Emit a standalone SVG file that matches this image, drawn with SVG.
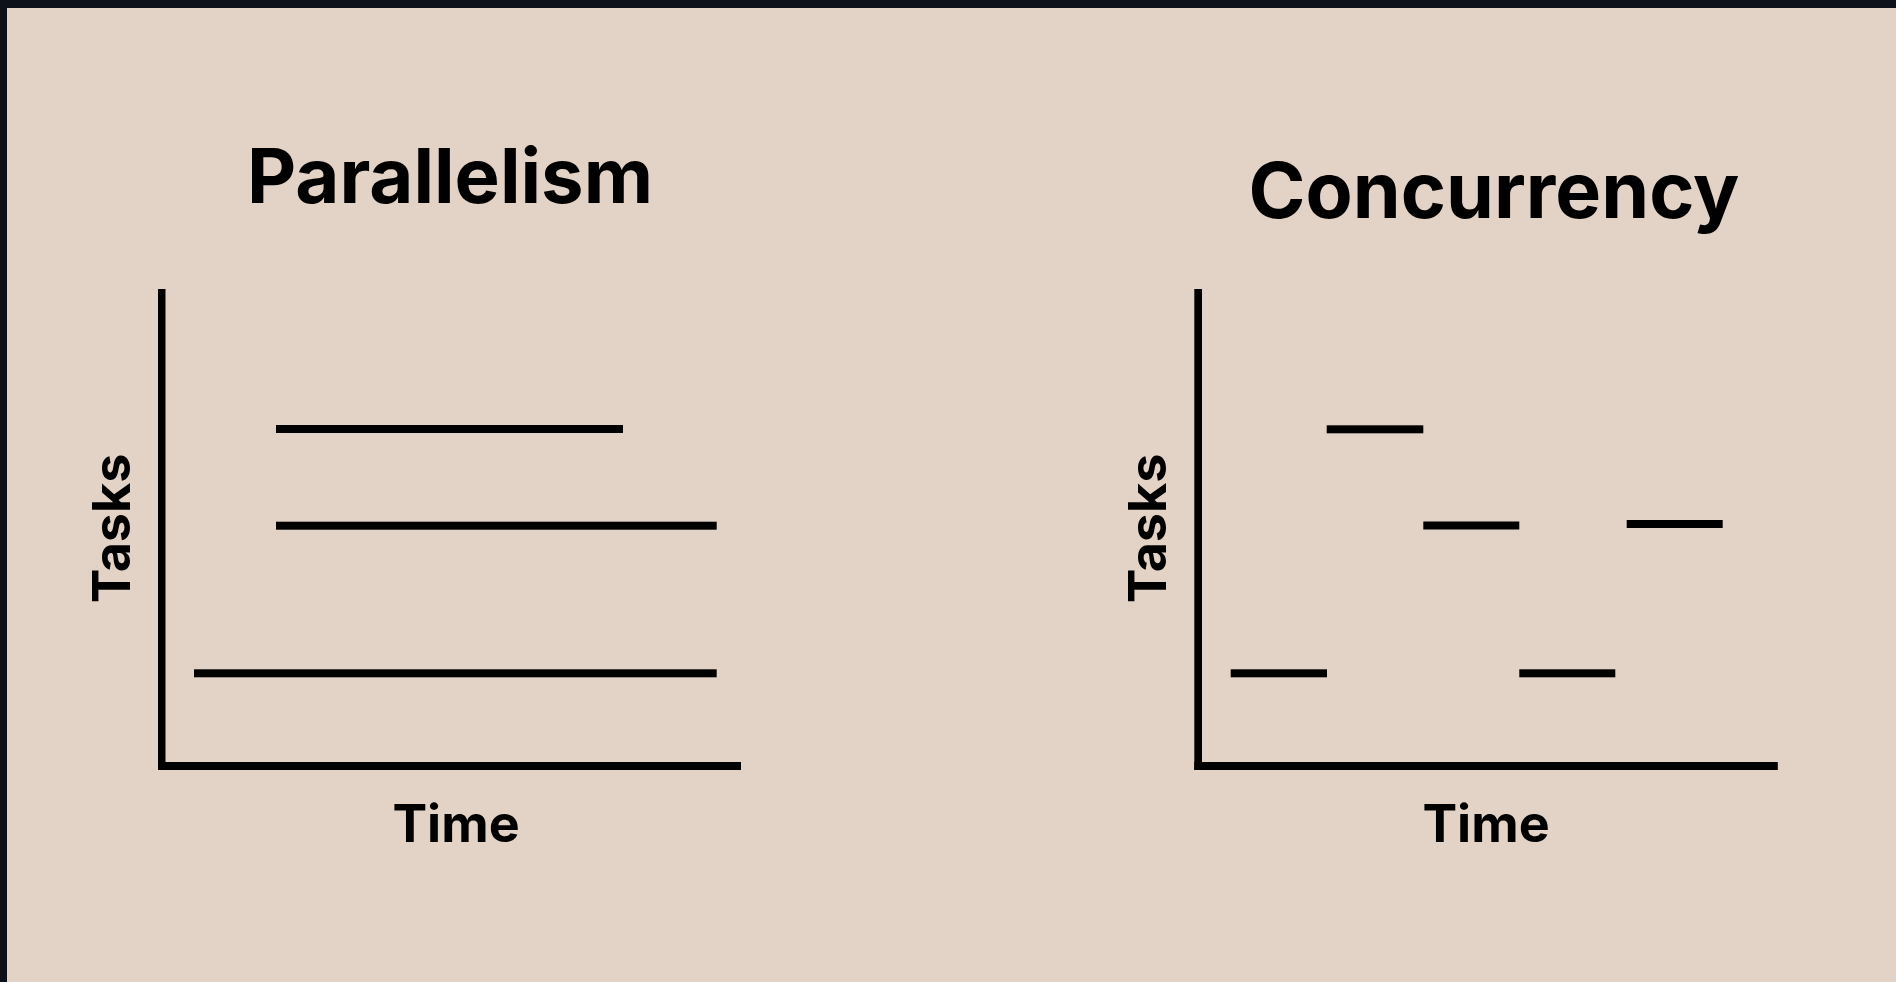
<svg xmlns="http://www.w3.org/2000/svg" width="1896" height="982" viewBox="0 0 1896 982">
<style>
.t{font-family:Inter,"Liberation Sans",sans-serif;font-weight:700;fill:#000;text-anchor:middle}
.bar{fill:#000}
</style>
<rect x="0" y="0" width="1896" height="982" fill="#0D111A"/>
<rect x="7" y="8" width="1889" height="974" fill="#E3D2C6"/>
<g id="parallelism">
<text class="t" x="450" y="203" font-size="76">Parallelism</text>
<text class="t" x="456" y="842" font-size="52">Time</text>
<text class="t" font-size="52" transform="translate(130,528.5) rotate(-90)">Tasks</text>
<rect class="bar" x="158" y="289" width="7.5" height="481"/>
<rect class="bar" x="158" y="762" width="583" height="8"/>
<rect class="bar" x="276" y="425" width="347" height="8"/>
<rect class="bar" x="276" y="521.7" width="440.7" height="8"/>
<rect class="bar" x="194" y="669.3" width="522.7" height="8"/>
</g>
<g id="concurrency">
<text class="t" x="1494" y="218" font-size="77">Concurrency</text>
<text class="t" x="1486" y="842" font-size="52">Time</text>
<text class="t" font-size="52" transform="translate(1166,528.5) rotate(-90)">Tasks</text>
<rect class="bar" x="1194.3" y="289" width="7.7" height="481"/>
<rect class="bar" x="1194.3" y="762" width="583.5" height="8"/>
<rect class="bar" x="1326.7" y="425.3" width="96.6" height="8"/>
<rect class="bar" x="1423.3" y="521.5" width="96" height="8"/>
<rect class="bar" x="1626.7" y="520" width="96" height="8"/>
<rect class="bar" x="1230.7" y="669.3" width="96.3" height="8"/>
<rect class="bar" x="1519.3" y="669.3" width="96" height="8"/>
</g>
</svg>
